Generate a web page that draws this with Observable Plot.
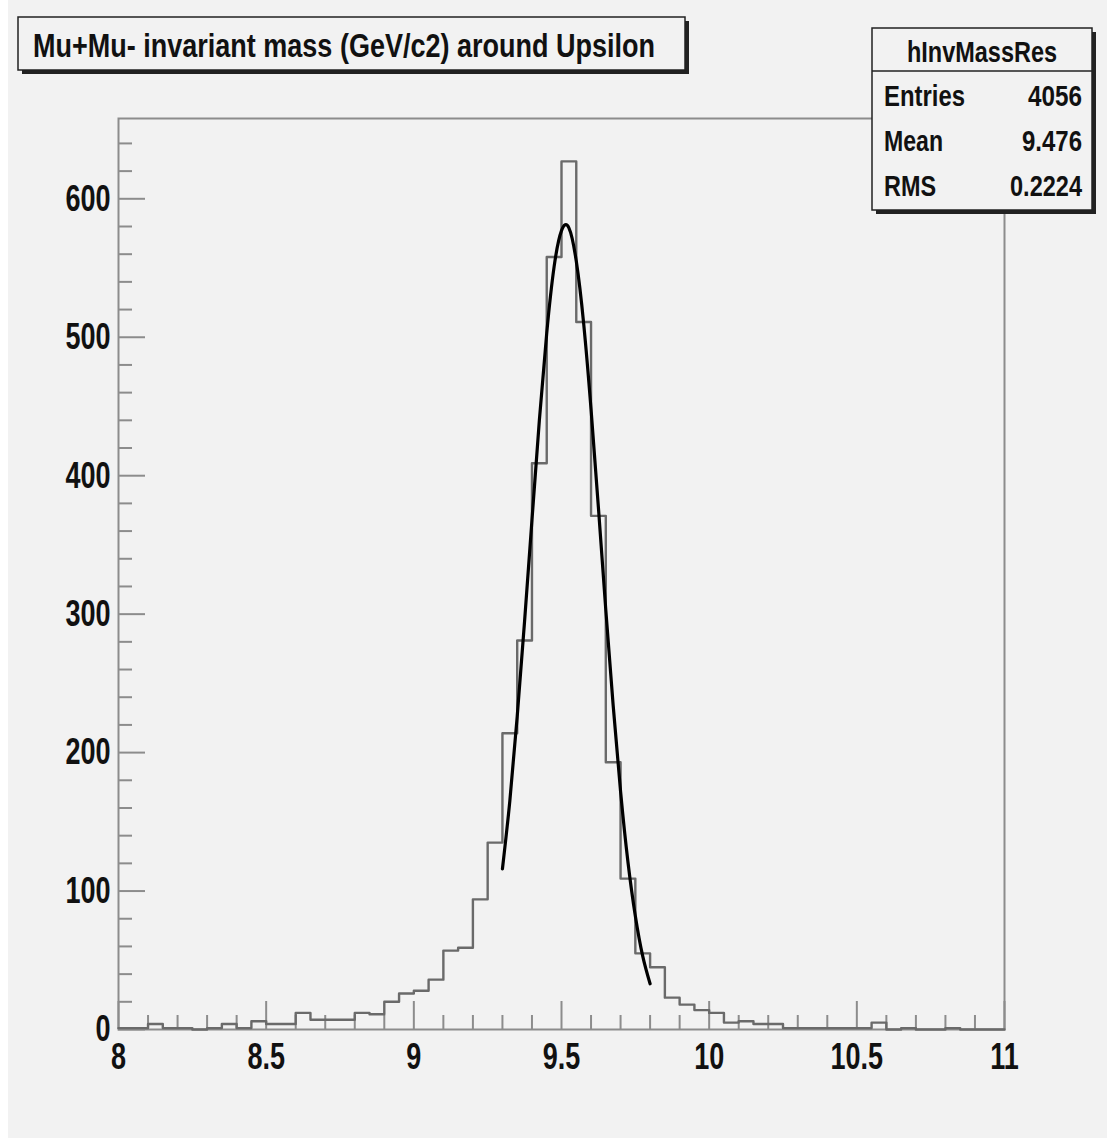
<!DOCTYPE html>
<html><head><meta charset="utf-8">
<script src="https://cdn.jsdelivr.net/npm/d3@7"></script>
<script src="https://cdn.jsdelivr.net/npm/@observablehq/plot@0.6"></script>
<style>
html,body{margin:0;padding:0;background:#fff;}
#wrap{position:relative;width:1107px;height:1138px;background:#fff;overflow:hidden}
#bg{position:absolute;left:8px;top:0;width:1099px;height:1138px;background:#f2f2f2}
#chart{position:absolute;left:0;top:0}
#over{position:absolute;left:0;top:0}
</style></head><body>
<div id="wrap"><div id="bg"></div><div id="chart"></div><svg id="over" width="1107" height="1138"></svg></div>
<script>
// ---- data ----
const histName = "hInvMassRes";
const title = "Mu+Mu- invariant mass (GeV/c2) around Upsilon";
const binStart = 8, binWidth = 0.05;
const counts = [1,1,4,1,1,0,1,4,1,6,4,4,12,7,7,7,12,11,20,26,
                28,36,57,59,94,135,214,281,409,558,627,511,371,193,109,55,45,23,18,14,
                12,5,6,4,4,1,1,1,1,1,1,5,0,1,0,0,1,0,0,0];
const fitX = [9.30,9.325,9.35,9.375,9.40,9.425,9.45,9.475,9.50,9.525,9.55,9.575,9.60,9.625,9.65,9.675,9.70,9.725,9.75,9.775,9.80];
const fitY = [116,165,226,295,368,440,503,551,577,579,555,510,448,377,303,234,172,121,82,53,33];
const statLabels = ["Entries","Mean","RMS"];
const statValues = ["4056","9.476","0.2224"];
const yMajor = [0,100,200,300,400,500,600];
const yMinor = [20,40,60,80,120,140,160,180,220,240,260,280,320,340,360,380,420,440,460,480,520,540,560,580,620,640];
const xMajor = [8,8.5,9,9.5,10,10.5,11];
const xMinor = [8.1,8.2,8.3,8.4,8.6,8.7,8.8,8.9,9.1,9.2,9.3,9.4,9.6,9.7,9.8,9.9,10.1,10.2,10.3,10.4,10.6,10.7,10.8,10.9];

// ---- build ----
const steps = counts.map((c,i)=>({x: binStart + i*binWidth, y: c}));
steps.push({x: binStart + counts.length*binWidth, y: counts[counts.length-1]});
const fit = fitX.map((x,i)=>({x, y: fitY[i]}));

const W=1107,H=1138,mL=118,mR=103,mT=118,mB=109;
const fw=W-mL-mR, fh=H-mT-mB;
const FONT='"Liberation Sans",Arial,sans-serif';
const axisCol="#8c8c8c";

const chart = Plot.plot({
  width:W, height:H, marginLeft:mL, marginRight:mR, marginTop:mT, marginBottom:mB,
  x:{domain:[8,11]}, y:{domain:[0,658]},
  style:{background:"transparent", fontFamily:FONT, color:"#111"},
  marks:[
    Plot.frame({stroke:axisCol, strokeWidth:2}),
    Plot.ruleY(yMinor,{stroke:axisCol, strokeWidth:2, insetRight: fw-14}),
    Plot.ruleY(yMajor,{stroke:axisCol, strokeWidth:2, insetRight: fw-27}),
    Plot.ruleX(xMinor,{stroke:axisCol, strokeWidth:2, insetTop: fh-14}),
    Plot.ruleX(xMajor,{stroke:axisCol, strokeWidth:2, insetTop: fh-28}),
    Plot.line(steps,{x:"x", y:"y", curve:"step-after", stroke:"#6a6a6a", strokeWidth:2.4}),
    Plot.line(fit,{x:"x", y:"y", curve:"natural", stroke:"#000", strokeWidth:3.2}),
    Plot.axisY(yMajor,{tickSize:0, tickPadding:8, fontSize:37, fontWeight:"bold", label:null, tickFormat:d=>String(d)}),
    Plot.axisX(xMajor,{tickSize:0, tickPadding:13, fontSize:37, fontWeight:"bold", label:null, tickFormat:d=>String(d)})
  ]
});
// condense the axis label glyphs horizontally, like the narrow font of the original
d3.select(chart).selectAll('g[aria-label$="tick label"] text').each(function(){
  const t = this.getAttribute("transform") || "";
  this.setAttribute("transform", t + " scale(0.73,1)");
});
document.getElementById("chart").appendChild(chart);

// ---- title & stats boxes ----
const ov = d3.select("#over");
function box(x,y,w,h){
  ov.append("rect").attr("x",x+4).attr("y",y+4).attr("width",w).attr("height",h).attr("fill","#222");
  ov.append("rect").attr("x",x).attr("y",y).attr("width",w).attr("height",h).attr("fill","#f2f2f2").attr("stroke","#222").attr("stroke-width",1.5);
}
function txt(x,y,s,size,len,anchor){
  const t = ov.append("text").attr("x",x).attr("y",y).attr("font-family",FONT).attr("font-weight","bold")
    .attr("font-size",size).attr("fill","#111").attr("text-anchor",anchor||"start")
    .attr("textLength",len).attr("lengthAdjust","spacingAndGlyphs").text(s);
  return t;
}
box(18,17,667,53);
txt(33,57,title,34,622);

box(872,28,220,182);
ov.append("line").attr("x1",872).attr("x2",1092).attr("y1",71).attr("y2",71).attr("stroke","#222").attr("stroke-width",1.5);
txt(982,62,histName,29,150,"middle");
const labLen=[81,59,52], valLen=[54,60,72];
statLabels.forEach((l,i)=>{
  const yy = 106 + i*45;
  txt(884,yy,l,30,labLen[i]);
  txt(1082,yy,statValues[i],30,valLen[i],"end");
});
</script>
</body></html>
